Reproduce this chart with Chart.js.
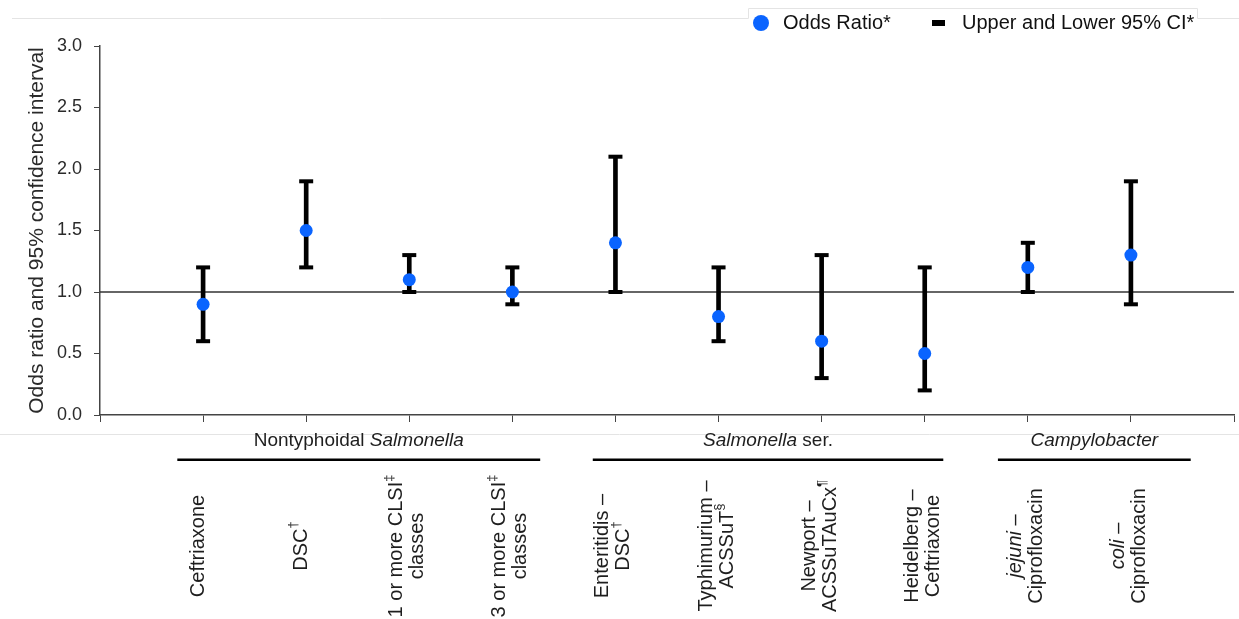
<!DOCTYPE html>
<html>
<head>
<meta charset="utf-8">
<title>Odds ratio and 95% confidence interval</title>
<script src="https://cdn.jsdelivr.net/npm/chart.js@4.4.1/dist/chart.umd.min.js"></script>
<style>
  html, body { margin: 0; padding: 0; background: #fff; }
  #wrap { width: 1239px; height: 619px; position: relative; }
</style>
</head>
<body>
<div id="wrap"><canvas id="orChart"></canvas></div>
<script>
// _text_ = italic, ^c = superscript character
const categoryLabels = [
  ['Ceftriaxone'],
  ['DSC^†'],
  ['1 or more CLSI^‡', 'classes'],
  ['3 or more CLSI^‡', 'classes'],
  ['Enteritidis –', 'DSC^†'],
  ['Typhimurium –', 'ACSSuT^§'],
  ['Newport –', 'ACSSuTAuCx^¶'],
  ['Heidelberg –', 'Ceftriaxone'],
  ['_jejuni_ –', 'Ciprofloxacin'],
  ['_coli_ –', 'Ciprofloxacin']
];
const oddsRatio = [0.9, 1.5, 1.1, 1.0, 1.4, 0.8, 0.6, 0.5, 1.2, 1.3];
const lowerCI   = [0.6, 1.2, 1.0, 0.9, 1.0, 0.6, 0.3, 0.2, 1.0, 0.9];
const upperCI   = [1.2, 1.9, 1.3, 1.2, 2.1, 1.2, 1.3, 1.2, 1.4, 1.9];
const yTickValues = [0, 0.5, 1.0, 1.5, 2.0, 2.5, 3.0];
const referenceValue = 1.0;

const groupNames = ['Nontyphoidal _Salmonella_', '_Salmonella_ ser.', '_Campylobacter_'];
const groupFirst = [1, 5, 9];
const groupLast  = [4, 8, 10];

const legendLabels = ['Odds Ratio*', 'Upper and Lower 95% CI*'];

const FONT = '"Liberation Sans", Arial, Helvetica, sans-serif';
const BLUE = '#0a64ff';
const TEXT = '#1e1e1e';

const xPos = categoryLabels.map((_, i) => i + 1);

// split a marked-up string into runs
function parseRuns(s) {
  const runs = [];
  let italic = false;
  for (let i = 0; i < s.length; i++) {
    const c = s[i];
    if (c === '_') { italic = !italic; continue; }
    if (c === '^') { runs.push({ t: s[i + 1], italic, sup: true }); i++; continue; }
    const last = runs[runs.length - 1];
    if (last && !last.sup && last.italic === italic) last.t += c;
    else runs.push({ t: c, italic, sup: false });
  }
  return runs;
}

function runFont(r, size) {
  return (r.italic ? 'italic ' : '') + (r.sup ? Math.round(size * 0.65) : size) + 'px ' + FONT;
}

// draws text centered on (cx, cy), middle baseline
function drawRich(ctx, s, cx, cy, size) {
  const runs = parseRuns(s);
  let w = 0;
  runs.forEach(r => { ctx.font = runFont(r, size); r.w = ctx.measureText(r.t).width; w += r.w; });
  let x = cx - w / 2;
  ctx.textAlign = 'left';
  ctx.textBaseline = 'middle';
  runs.forEach(r => {
    ctx.font = runFont(r, size);
    ctx.fillText(r.t, x, r.sup ? cy - size * 0.38 : cy);
    x += r.w;
  });
}

const annotations = {
  id: 'annotations',
  afterDraw(chart) {
    const { ctx, scales: { x } } = chart;
    ctx.save();

    // faint frame lines from the original figure
    ctx.strokeStyle = '#e4e4e4';
    ctx.lineWidth = 1;
    ctx.beginPath();
    ctx.moveTo(12, 18.5); ctx.lineTo(748.5, 18.5); ctx.lineTo(748.5, 8.5);
    ctx.lineTo(1197.5, 8.5); ctx.lineTo(1197.5, 18.5); ctx.lineTo(1239, 18.5);
    ctx.moveTo(0, 434.5); ctx.lineTo(1239, 434.5);
    ctx.stroke();

    ctx.fillStyle = TEXT;

    // category labels, rotated
    categoryLabels.forEach((lines, i) => {
      const n = lines.length;
      const px = x.getPixelForValue(xPos[i]) + (n === 1 ? -5 : -2);
      ctx.save();
      ctx.translate(px, 546);
      ctx.rotate(-Math.PI / 2);
      lines.forEach((line, k) => drawRich(ctx, line, 0, (k - (n - 1) / 2) * 21, 20));
      ctx.restore();
    });

    // group labels with underline
    const padL = [0.25, 0.22, 0.29];
    const padR = [0.27, 0.18, 0.58];
    groupNames.forEach((g, i) => {
      const x0 = x.getPixelForValue(groupFirst[i] - padL[i]);
      const x1 = x.getPixelForValue(groupLast[i] + padR[i]);
      ctx.fillStyle = TEXT;
      drawRich(ctx, g, (x0 + x1) / 2, 441, 19);
      ctx.fillStyle = '#000';
      ctx.fillRect(x0, 458.5, x1 - x0, 2.5);
    });

    // legend
    ctx.fillStyle = BLUE;
    ctx.beginPath();
    ctx.arc(761, 23, 8, 0, Math.PI * 2);
    ctx.fill();
    ctx.fillStyle = '#000';
    ctx.fillRect(932, 20, 13, 6);
    ctx.fillStyle = '#111';
    ctx.font = '20px ' + FONT;
    ctx.textAlign = 'left';
    ctx.textBaseline = 'middle';
    ctx.fillText(legendLabels[0], 783, 23);
    ctx.fillText(legendLabels[1], 962, 23);

    ctx.restore();
  }
};

const ctx = document.getElementById('orChart').getContext('2d');

new Chart(ctx, {
  type: 'scatter',
  data: {
    datasets: [
      {
        label: legendLabels[0],
        data: xPos.map((v, i) => ({ x: v, y: oddsRatio[i] })),
        backgroundColor: BLUE,
        borderWidth: 0,
        pointRadius: 6.5,
        order: 0
      },
      {
        label: legendLabels[1],
        data: xPos.map((v, i) => ({ x: v, y: lowerCI[i] }))
          .concat(xPos.map((v, i) => ({ x: v, y: upperCI[i] }))),
        pointStyle: 'line',
        pointRadius: 7,
        borderWidth: 4,
        borderColor: '#000',
        order: 1
      },
      {
        type: 'bar',
        label: 'CI range',
        data: xPos.map((v, i) => ({ x: v, y: [lowerCI[i], upperCI[i]] })),
        backgroundColor: '#000',
        barThickness: 4,
        grouped: false,
        order: 2
      },
      {
        type: 'line',
        label: 'Reference',
        data: [{ x: 0, y: referenceValue }, { x: 11, y: referenceValue }],
        borderColor: '#333',
        borderWidth: 1.5,
        pointRadius: 0,
        order: 3
      }
    ]
  },
  options: {
    responsive: true,
    maintainAspectRatio: false,
    animation: false,
    layout: { autoPadding: false, padding: { top: 46, right: 5, left: 0, bottom: 0 } },
    plugins: {
      legend: { display: false },
      tooltip: { enabled: false }
    },
    scales: {
      x: {
        type: 'linear',
        min: 0,
        max: 11,
        offset: false,
        ticks: { display: false, stepSize: 1 },
        grid: { offset: false, drawOnChartArea: false, drawTicks: true, tickLength: 7, color: '#444' },
        border: { display: true, color: '#444', width: 1.5 },
        afterFit(scale) { scale.height = 204; }
      },
      y: {
        min: 0,
        max: 3,
        afterBuildTicks(scale) { scale.ticks = yTickValues.map(v => ({ value: v })); },
        ticks: {
          padding: 12,
          color: '#2a2a2a',
          font: { family: FONT, size: 18 },
          callback: v => Number(v).toFixed(1)
        },
        grid: { drawOnChartArea: false, drawTicks: true, tickLength: 6, color: '#444' },
        border: { display: true, color: '#444', width: 1.5 },
        title: {
          display: true,
          text: 'Odds ratio and 95% confidence interval',
          color: '#2a2a2a',
          font: { family: FONT, size: 21 },
          padding: { top: 25, bottom: 0 }
        },
        afterFit(scale) { scale.width = 100; }
      }
    }
  },
  plugins: [annotations]
});
</script>
</body>
</html>
